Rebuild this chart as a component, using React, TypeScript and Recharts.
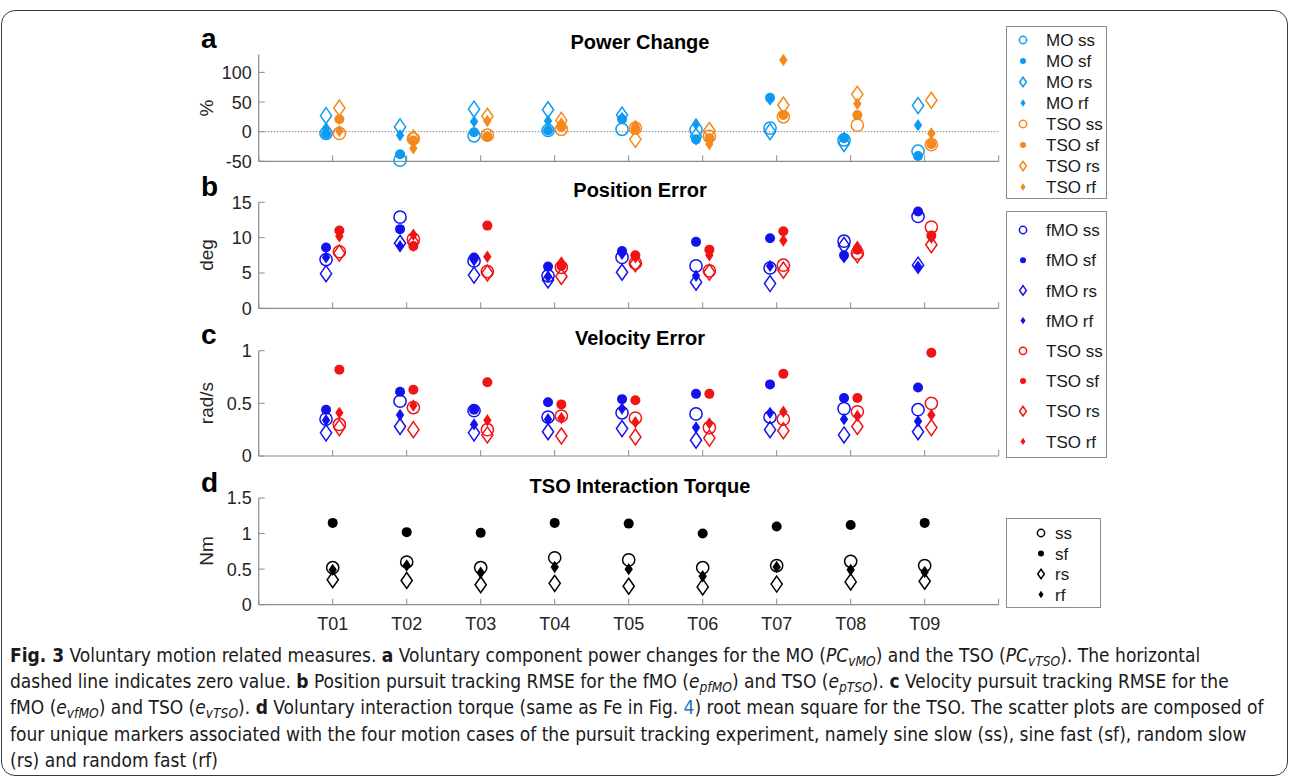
import React from "react";
import { ScatterChart, Scatter, XAxis, YAxis, ReferenceLine } from "recharts";

// trial labels on the shared x axis
const trials = ["T01", "T02", "T03", "T04", "T05", "T06", "T07", "T08", "T09"];
const xTicks = [0, 1, 2, 3, 4, 5, 6, 7, 8, 9, 10];

// a: power change (%)
const pcMoSs = [-3, -48, -7, 2, 4, 3, 6, -14, -33];
const pcMoSf = [-4, -38, -1, 2, 21, -13, 57, -11, -41];
const pcMoRs = [27, 8, 38, 37, 28, -8, 0, -20, 44];
const pcMoRf = [6, -6, 17, 18, 23, 13, 54, -10, 11];
const pcTsoSs = [-3, -12, -6, 4, 6, -8, 25, 11, -22];
const pcTsoSf = [21, -15, -8, 8, 5, -11, 28, 28, -21];
const pcTsoRs = [40, -11, 26, 19, -13, 2, 45, 63, 53];
const pcTsoRf = [1, -28, 18, 14, 10, -21, 121, 47, -3];

// b: position error (deg)
const peMoSs = [6.9, 12.9, 6.7, 4.6, 7.2, 6.0, 5.7, 9.5, 13.0];
const peMoSf = [8.6, 11.2, 7.2, 5.9, 8.1, 9.4, 9.9, 7.5, 13.7];
const peMoRs = [4.9, 9.2, 4.7, 4.0, 5.1, 3.7, 3.5, 8.9, 6.1];
const peMoRf = [7.2, 8.8, 6.8, 4.5, 7.7, 4.6, 6.0, 7.2, 5.9];
const peTsoSs = [8.0, 9.8, 5.2, 5.8, 6.4, 5.3, 6.1, 7.8, 11.5];
const peTsoSf = [11.0, 8.8, 11.7, 6.0, 7.5, 8.3, 10.9, 8.3, 10.3];
const peTsoRs = [7.8, 9.3, 5.0, 4.5, 6.3, 5.1, 5.4, 7.6, 9.0];
const peTsoRf = [10.2, 10.4, 7.3, 6.5, 7.2, 7.5, 9.6, 8.7, 10.0];

// c: velocity error (rad/s)
const veMoSs = [0.35, 0.52, 0.43, 0.37, 0.41, 0.4, 0.37, 0.45, 0.44];
const veMoSf = [0.44, 0.61, 0.44, 0.51, 0.54, 0.59, 0.68, 0.55, 0.65];
const veMoRs = [0.22, 0.28, 0.22, 0.23, 0.26, 0.15, 0.25, 0.2, 0.23];
const veMoRf = [0.34, 0.39, 0.3, 0.35, 0.45, 0.27, 0.41, 0.35, 0.33];
const veTsoSs = [0.3, 0.46, 0.25, 0.38, 0.36, 0.27, 0.35, 0.42, 0.5];
const veTsoSf = [0.82, 0.63, 0.7, 0.49, 0.53, 0.59, 0.78, 0.55, 0.98];
const veTsoRs = [0.27, 0.25, 0.2, 0.19, 0.18, 0.17, 0.24, 0.28, 0.27];
const veTsoRf = [0.41, 0.48, 0.34, 0.36, 0.32, 0.31, 0.42, 0.38, 0.39];

// d: TSO interaction torque (Nm)
const tqSs = [0.52, 0.6, 0.52, 0.66, 0.63, 0.52, 0.55, 0.61, 0.55];
const tqSf = [1.15, 1.02, 1.01, 1.15, 1.14, 1.0, 1.1, 1.12, 1.15];
const tqRs = [0.35, 0.34, 0.28, 0.3, 0.26, 0.25, 0.29, 0.32, 0.33];
const tqRf = [0.49, 0.55, 0.45, 0.53, 0.5, 0.4, 0.53, 0.49, 0.46];

const FONT = '"Liberation Sans", Arial, Helvetica, sans-serif';
const AXIS = "#8c8c8c";
const INK = "#262626";
const LIGHT_BLUE = "#0d9bf2";
const ORANGE = "#f5891e";
const BLUE = "#1212ee";
const RED = "#f01414";

type Kind = "ss" | "sf" | "rs" | "rf";
type Series = { name: string; color: string; kind: Kind; values: number[]; shift: number };

const toPoints = (values: number[], shift: number) =>
  values.map((v, i) => ({ x: i + 1 + shift, y: v }));

const group = (prefix: string, color: string, shift: number, vals: number[][]): Series[] =>
  (["ss", "sf", "rs", "rf"] as Kind[]).map((k, i) => ({
    name: prefix ? `${prefix} ${k}` : k,
    color,
    kind: k,
    values: vals[i],
    shift,
  }));

const seriesA = [
  ...group("MO", LIGHT_BLUE, -0.09, [pcMoSs, pcMoSf, pcMoRs, pcMoRf]),
  ...group("TSO", ORANGE, 0.09, [pcTsoSs, pcTsoSf, pcTsoRs, pcTsoRf]),
];
const seriesB = [
  ...group("fMO", BLUE, -0.09, [peMoSs, peMoSf, peMoRs, peMoRf]),
  ...group("TSO", RED, 0.09, [peTsoSs, peTsoSf, peTsoRs, peTsoRf]),
];
const seriesC = [
  ...group("fMO", BLUE, -0.09, [veMoSs, veMoSf, veMoRs, veMoRf]),
  ...group("TSO", RED, 0.09, [veTsoSs, veTsoSf, veTsoRs, veTsoRf]),
];
const seriesD = group("", "#000000", 0, [tqSs, tqSf, tqRs, tqRf]);

const Marker = ({ cx, cy, kind, color, small }: any) => {
  const s = small ? 0.6 : 1;
  const sw = 1.5;
  if (kind === "ss") return <circle cx={cx} cy={cy} r={6.1 * s} fill="none" stroke={color} strokeWidth={sw} />;
  if (kind === "sf") return <circle cx={cx} cy={cy} r={5 * s} fill={color} />;
  const w = (kind === "rs" ? 5.6 : 4.2) * s;
  const h = (kind === "rs" ? 8 : 6.2) * s;
  const d = `M${cx},${cy - h}L${cx + w},${cy}L${cx},${cy + h}L${cx - w},${cy}Z`;
  return kind === "rs" ? (
    <path d={d} fill="none" stroke={color} strokeWidth={sw} strokeLinejoin="miter" />
  ) : (
    <path d={d} fill={color} />
  );
};

const XTick = ({ x, y, payload, labels }: any) => {
  const v = payload.value;
  return (
    <g>
      <line x1={x} x2={x} y1={y} y2={y - 6} stroke={AXIS} />
      {labels && v >= 1 && v <= 9 && (
        <text x={x} y={y + 25} textAnchor="middle" fontSize={18} fontFamily={FONT} fill={INK}>
          {trials[v - 1]}
        </text>
      )}
    </g>
  );
};

const YTick = ({ x, y, payload }: any) => (
  <g>
    <line x1={x} x2={x + 6} y1={y} y2={y} stroke={AXIS} />
    <text x={x - 7} y={y} dy="0.36em" textAnchor="end" fontSize={18} fontFamily={FONT} fill={INK}>
      {payload.value}
    </text>
  </g>
);

type PanelProps = {
  top: number;
  marginTop: number;
  plotH: number;
  domain: [number, number];
  ticks: number[];
  series: Series[];
  labels?: boolean;
  zeroLine?: boolean;
};

const Panel = ({ top, marginTop, plotH, domain, ticks, series, labels, zeroLine }: PanelProps) => {
  const axisH = labels ? 40 : 16;
  return (
    <div style={{ position: "absolute", left: 0, top }}>
      <ScatterChart
        width={1010}
        height={marginTop + plotH + axisH}
        margin={{ top: marginTop, right: 11.3, bottom: 0, left: 198.7 }}
      >
        <XAxis
          type="number"
          dataKey="x"
          domain={[0, 10]}
          ticks={xTicks}
          interval={0}
          height={axisH}
          tickSize={0}
          tickMargin={0}
          tickLine={false}
          axisLine={{ stroke: AXIS, strokeWidth: 1.2 }}
          tick={(p: any) => <XTick {...p} labels={labels} />}
        />
        <YAxis
          type="number"
          dataKey="y"
          domain={domain}
          ticks={ticks}
          interval={0}
          width={60}
          tickSize={0}
          tickMargin={0}
          tickLine={false}
          axisLine={{ stroke: AXIS, strokeWidth: 1.2 }}
          tick={(p: any) => <YTick {...p} />}
        />
        {zeroLine && <ReferenceLine y={0} stroke="#666" strokeWidth={0.8} strokeDasharray="1.5 1.5" />}
        {series.map((s) => (
          <Scatter
            key={s.name}
            name={s.name}
            data={toPoints(s.values, s.shift)}
            isAnimationActive={false}
            shape={(p: any) => <Marker cx={p.cx} cy={p.cy} kind={s.kind} color={s.color} />}
          />
        ))}
      </ScatterChart>
    </div>
  );
};

const LegendBox = ({ left, top, width, height, items, firstRow, step, markerX, textX }: any) => (
  <svg
    width={width + 2}
    height={height + 2}
    style={{ position: "absolute", left, top, overflow: "visible" }}
  >
    <rect x={0.5} y={0.5} width={width} height={height} fill="#fff" stroke="#8c8c8c" strokeWidth={1} />
    {items.map((s: Series, i: number) => (
      <g key={s.name}>
        <Marker cx={markerX} cy={firstRow + i * step} kind={s.kind} color={s.color} small />
        <text x={textX} y={firstRow + i * step} dy="0.36em" fontSize={17} fontFamily={FONT} fill="#1a1a1a">
          {s.name}
        </text>
      </g>
    ))}
  </svg>
);

const letters = [
  { t: "a", y: 48 },
  { t: "b", y: 196 },
  { t: "c", y: 344 },
  { t: "d", y: 492 },
];
const titles = [
  { t: "Power Change", y: 48.5 },
  { t: "Position Error", y: 196.5 },
  { t: "Velocity Error", y: 345 },
  { t: "TSO Interaction Torque", y: 493 },
];
const yLabels = [
  { t: "%", y: 108 },
  { t: "deg", y: 255 },
  { t: "rad/s", y: 403 },
  { t: "Nm", y: 551 },
];

const sub: React.CSSProperties = { fontSize: "0.72em", verticalAlign: "-0.3em", lineHeight: 0 };

export default function App() {
  return (
    <div style={{ position: "absolute", left: 0, top: 0, width: 1290, height: 780, background: "#fff", overflow: "hidden" }}>
      <div
        style={{
          position: "absolute",
          left: 1,
          top: 10,
          width: 1285,
          height: 764,
          border: "1px solid #3a3a3a",
          borderRadius: 14,
        }}
      />
      <Panel top={0} marginTop={54.6} plotH={106.7} domain={[-50, 130]} ticks={[-50, 0, 50, 100]} series={seriesA} zeroLine />
      <Panel top={150} marginTop={52.3} plotH={106} domain={[0, 15]} ticks={[0, 5, 10, 15]} series={seriesB} />
      <Panel top={300} marginTop={50.7} plotH={105.3} domain={[0, 1]} ticks={[0, 0.5, 1]} series={seriesC} />
      <Panel top={450} marginTop={48} plotH={106.7} domain={[0, 1.5]} ticks={[0, 0.5, 1, 1.5]} series={seriesD} labels />

      <svg width={1290} height={640} style={{ position: "absolute", left: 0, top: 0, pointerEvents: "none" }}>
        {letters.map((l) => (
          <text key={l.t} x={201} y={l.y} fontSize={28} fontWeight="bold" fontFamily={FONT} fill="#000">
            {l.t}
          </text>
        ))}
        {titles.map((l) => (
          <text key={l.t} x={640} y={l.y} textAnchor="middle" fontSize={20} fontWeight="bold" fontFamily={FONT} fill="#000">
            {l.t}
          </text>
        ))}
        {yLabels.map((l) => (
          <text
            key={l.t}
            transform={`translate(213,${l.y}) rotate(-90)`}
            textAnchor="middle"
            fontSize={19}
            fontFamily={FONT}
            fill={INK}
          >
            {l.t}
          </text>
        ))}
      </svg>

      <LegendBox left={1006} top={26} width={100} height={172} items={seriesA} firstRow={14} step={21} markerX={17} textX={40} />
      <LegendBox left={1006} top={211} width={100} height={246} items={[...seriesB]} firstRow={19} step={30.2} markerX={17} textX={40} />
      <LegendBox left={1006} top={518} width={94} height={89} items={seriesD} firstRow={15} step={20.5} markerX={35} textX={49} />

      <div
        style={{
          position: "absolute",
          left: 10,
          top: 642,
          whiteSpace: "nowrap",
          fontFamily: '"Liberation Sans Narrow", "DejaVu Sans Condensed", "Liberation Sans", sans-serif',
          fontSize: 19,
          lineHeight: "26.2px",
          color: "#1a1a1a",
        }}
      >
        <div>
          <b>Fig. 3</b> Voluntary motion related measures. <b>a</b> Voluntary component power changes for the MO (
          <i>
            PC<span style={sub}>vMO</span>
          </i>
          ) and the TSO (
          <i>
            PC<span style={sub}>vTSO</span>
          </i>
          ). The horizontal
        </div>
        <div>
          dashed line indicates zero value. <b>b</b> Position pursuit tracking RMSE for the fMO (
          <i>
            e<span style={sub}>pfMO</span>
          </i>
          ) and TSO (
          <i>
            e<span style={sub}>pTSO</span>
          </i>
          ). <b>c</b> Velocity pursuit tracking RMSE for the
        </div>
        <div>
          fMO (
          <i>
            e<span style={sub}>vfMO</span>
          </i>
          ) and TSO (
          <i>
            e<span style={sub}>vTSO</span>
          </i>
          ). <b>d</b> Voluntary interaction torque (same as Fe in Fig. <span style={{ color: "#2b6cc4" }}>4</span>) root
          mean square for the TSO. The scatter plots are composed of
        </div>
        <div>
          four unique markers associated with the four motion cases of the pursuit tracking experiment, namely sine slow
          (ss), sine fast (sf), random slow
        </div>
        <div>(rs) and random fast (rf)</div>
      </div>
    </div>
  );
}
